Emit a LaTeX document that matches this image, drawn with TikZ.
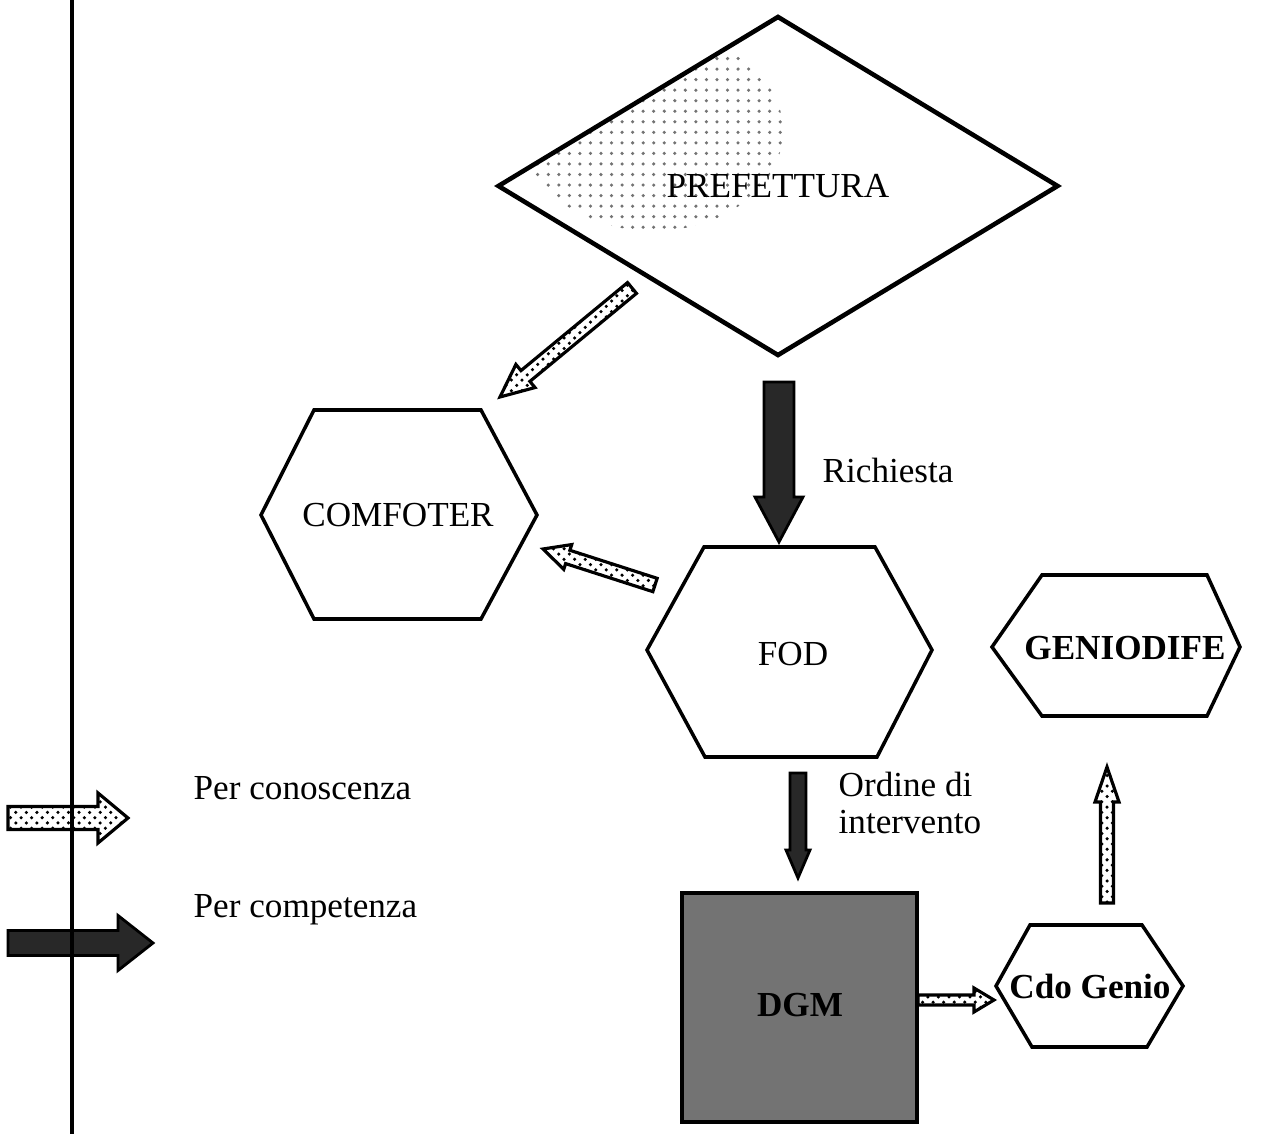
\documentclass[tikz,border=0pt]{standalone}
\usepackage{fontspec}
\setmainfont{Liberation Serif}
\usetikzlibrary{calc}
\usetikzlibrary{positioning}
\usetikzlibrary{shapes}
\usetikzlibrary{patterns}
\definecolor{dark1}{RGB}{40,40,40}
\definecolor{gray2}{RGB}{125,125,125}
\definecolor{gray4}{RGB}{150,150,150}

% block arrow: [style]{from}{to}{shaft half width}{head half width}{head length}
\newcommand{\blockarrow}[6][]{%
  \coordinate (ba-base) at ($(#3)!#6!(#2)$);
  \path[#1] ($(#2)!#4!90:(#3)$) -- ($(ba-base)!#4!90:(#3)$) -- ($(ba-base)!#5!90:(#3)$)
    -- (#3) -- ($(ba-base)!#5!-90:(#3)$) -- ($(ba-base)!#4!-90:(#3)$) -- ($(#2)!#4!-90:(#3)$) -- cycle;}

\tikzset{
  shape line/.style={draw=black,line width=1pt},
  know arrow/.style={draw=black,line width=0.9pt,pattern=crosshatch dots,pattern color=black},
  duty arrow/.style={draw=black,line width=0.8pt,fill=dark1},
  label text/.style={font=\fontsize{10}{10.5}\selectfont,inner sep=0pt},
}

\begin{document}
\begin{tikzpicture}[x=0.1mm,y=-0.1mm]
	\useasboundingbox (0,0) rectangle (1271,1134);

	%%% Prefettura
	\node[diamond,draw=black,line width=1.3pt,minimum width=56.1mm,minimum height=34mm,inner sep=0pt,
		font=\fontsize{10}{10.5}\selectfont,
		path picture={\fill[pattern=dots,pattern color=black!55]
			($(path picture bounding box.center)+(-125,-55)$) ellipse [x radius=13mm,y radius=10mm];}]
		(prefettura) at (778,186) {PREFETTURA};

	%%% Hexagons
	\draw[shape line] (261,515) -- (314,410) -- (481,410) -- (537,515) -- (481,619) -- (314,619) -- cycle;
	\node[label text] (comfoter) at (398,515) {COMFOTER};
	\draw[shape line] (647,650) -- (704,547) -- (875,547) -- (932,650) -- (877,757) -- (705,757) -- cycle;
	\node[label text] (fod) at (793,654) {FOD};
	\draw[shape line] (992,647) -- (1042,575) -- (1207,575) -- (1240,647) -- (1207,716) -- (1042,716) -- cycle;
	\node[label text,font=\fontsize{10}{10.5}\selectfont\bfseries] (geniodife) at (1125,648) {GENIODIFE};
	\draw[shape line] (996,986) -- (1030,925) -- (1142,925) -- (1183,986) -- (1147,1047) -- (1032,1047) -- cycle;
	\node[label text,font=\fontsize{10}{10.5}\selectfont\bfseries] (cdogenio) at (1090,986) {Cdo Genio};

	%%% DGM box
	\filldraw[fill=black!55,draw=black,line width=1pt] (682,893) rectangle (917,1122);
	\node[label text,font=\fontsize{10}{10.5}\selectfont\bfseries] (dgm) at (800,1005) {DGM};

	%%% Arrow ends
	\coordinate (a1-from) at (632,288);  \coordinate (a1-to) at (500,397);
	\coordinate (a2-from) at (655,585);  \coordinate (a2-to) at (543,549);
	\coordinate (a3-from) at (779,382);  \coordinate (a3-to) at (779,542);
	\coordinate (a4-from) at (798,773);  \coordinate (a4-to) at (798,878);
	\coordinate (a5-from) at (918,1000); \coordinate (a5-to) at (994,1000);
	\coordinate (a6-from) at (1107,903); \coordinate (a6-to) at (1107,767);
	\coordinate (k-from) at (8,818);     \coordinate (k-to) at (128,818);
	\coordinate (d-from) at (8,943);     \coordinate (d-to) at (153,943);

	%%% Arrows
	\blockarrow[know arrow]{a1-from}{a1-to}{0.7mm}{1.5mm}{3.3mm}
	\blockarrow[know arrow]{a2-from}{a2-to}{0.7mm}{1.3mm}{2.6mm}
	\blockarrow[duty arrow]{a3-from}{a3-to}{1.5mm}{2.4mm}{4.5mm}
	\blockarrow[duty arrow]{a4-from}{a4-to}{0.8mm}{1.2mm}{2.8mm}
	\blockarrow[know arrow]{a5-from}{a5-to}{0.5mm}{1.2mm}{2.0mm}
	\blockarrow[know arrow]{a6-from}{a6-to}{0.65mm}{1.2mm}{3.5mm}

	%%% Arrow labels
	\node[label text,anchor=west] (richiesta) at (822,470) {Richiesta};
	\node[label text,anchor=west,align=left] (ordine) at (838,803) {Ordine di\\intervento};

	%%% Legend
	\blockarrow[know arrow]{k-from}{k-to}{1.15mm}{2.5mm}{3.0mm}
	\blockarrow[duty arrow]{d-from}{d-to}{1.25mm}{2.75mm}{3.5mm}
	\node[label text,anchor=west] (conoscenza) at (193,788) {Per conoscenza};
	\node[label text,anchor=west] (competenza) at (193,910) {Per competenza};

	%%% Left rule
	\draw[line width=1.1pt] (72,0) -- (72,1134);

\end{tikzpicture}
\end{document}
